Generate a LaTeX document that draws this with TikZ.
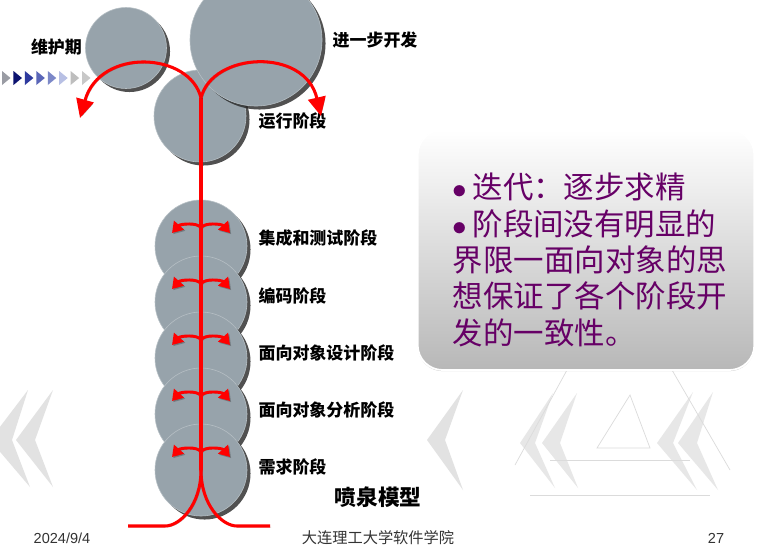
\documentclass[tikz,border=0pt]{standalone}
\usepackage{fontspec}
\setmainfont{Liberation Sans}
\newfontfamily\cjk{Noto Sans CJK SC}
\usetikzlibrary{shapes,arrows.meta,shadows}

\definecolor{ballgray}{HTML}{97A3AB}
\definecolor{notepurple}{HTML}{660066}
\definecolor{decogray}{HTML}{E2E2E2}
\definecolor{tri1}{HTML}{9A9CA4}
\definecolor{tri2}{HTML}{0C1370}
\definecolor{tri3}{HTML}{2E3A9E}
\definecolor{tri4}{HTML}{5A66B8}
\definecolor{tri5}{HTML}{7C88C8}
\definecolor{tri6}{HTML}{B8C0E4}
\definecolor{tri7}{HTML}{BEBEBE}
\definecolor{tri8}{HTML}{C8C8C8}

\begin{document}
\begin{tikzpicture} [x=0.03cm, y=-0.03cm, node distance=1.68cm,
  ball/.style={circle, fill=ballgray, draw=ballgray!70!white, line width=0.5pt, inner sep=0pt, drop shadow={shadow xshift=3pt, shadow yshift=-3pt, opacity=0.8, fill=black!85}},
  stagetext/.style={anchor=west, inner sep=0pt, font=\cjk\bfseries\fontsize{14.5}{16}\selectfont},
  redshadow/.style={preaction={draw=black!80, opacity=0.35, transform canvas={shift={(1pt,-1pt)}}}},
  stem/.style={draw=red, line width=2.6pt, redshadow},
  jet/.style={stem, -{Triangle[length=16pt, width=15pt]}},
  spray/.style={draw=red, line width=2.5pt, redshadow, -{Triangle[length=9pt, width=11pt]}},
  decoline/.style={draw=black!14, line width=0.6pt},
  infobox/.style={rectangle, rounded corners=0.75cm, minimum width=10.1cm, minimum height=7.2cm, top color=white, bottom color=black!28, draw=white, line width=1.5pt, drop shadow={shadow xshift=0pt, shadow yshift=-1pt, opacity=0.35, fill=black!60}}]
{\small

	\useasboundingbox (0,0) rectangle (765,550);
	\clip (0,0) rectangle (765,550);
	\fill[white] (0,0) rectangle (765,550);

	% faint background marks
	\fill[decogray] (28,390) -- (-10,440) -- (30,487) -- (12,440) -- cycle;
	\fill[decogray] (53,390) -- (16,440) -- (53,487) -- (35,440) -- cycle;
	\fill[decogray] (463,390) -- (427,440) -- (463,490) -- (445,440) -- cycle;
	\fill[decogray, opacity=0.8] (553,393) -- (520,443) -- (555,488) -- (535,443) -- cycle;
	\fill[decogray, opacity=0.8] (577,393) -- (542,443) -- (578,488) -- (560,443) -- cycle;
	\fill[decogray, opacity=0.8] (693,392) -- (657,443) -- (697,490) -- (673,443) -- cycle;
	\fill[decogray, opacity=0.8] (713,392) -- (678,443) -- (718,490) -- (697,443) -- cycle;
	\draw[decoline] (567,370) -- (515,465);
	\draw[decoline] (672,370) -- (730,470);
	\draw[decoline] (530,495) -- (710,495);
	\draw[decoline] (550,460) -- (690,460);
	\draw[decoline] (630,395) -- (597,448) -- (650,448) -- cycle;

	% row of little triangles
	\foreach \col [count=\i] in {tri1,tri2,tri3,tri4,tri5,tri6,tri7,tri8}
		\fill[\col] ({-9.4+11.43*\i},71) -- ++(8.5,7) -- ++(-8.5,7) -- cycle;

	% circles
	\node [ball, minimum size=2.76cm] (run) at (200,116) {};
	\node [ball, minimum size=2.43cm] (care) at (126,48) {};
	\node [ball, minimum size=3.96cm] (grow) at (256,40) {};
	\node [ball, minimum size=2.76cm] (stage_1) at (201,246) {};
	\node [ball, minimum size=2.76cm, below of=stage_1] (stage_2) {};
	\node [ball, minimum size=2.76cm, below of=stage_2] (stage_3) {};
	\node [ball, minimum size=2.76cm, below of=stage_3] (stage_4) {};
	\node [ball, minimum size=2.76cm, below of=stage_4] (stage_5) {};

	% labels
	\node [stagetext, anchor=east] (care_text) at ([shift={(-3,-1)}]care.west) {维护期};
	\node [stagetext] (grow_text) at ([shift={(10,0)}]grow.east) {进一步开发};
	\node [stagetext] (run_text) at ([shift={(12,5)}]run.east) {运行阶段};
	\node [stagetext] (stage_1_text) at ([shift={(11,-8)}]stage_1.east) {集成和测试阶段};
	\node [stagetext] (stage_2_text) at ([shift={(11,-6)}]stage_2.east) {编码阶段};
	\node [stagetext] (stage_3_text) at ([shift={(11,-5)}]stage_3.east) {面向对象设计阶段};
	\node [stagetext] (stage_4_text) at ([shift={(11,-4)}]stage_4.east) {面向对象分析阶段};
	\node [stagetext] (stage_5_text) at ([shift={(11,-3)}]stage_5.east) {需求阶段};
	\node [font=\cjk\bfseries\fontsize{18.5}{20}\selectfont] (title) at (378,497) {喷泉模型};

	% the fountain
	\coordinate (fork_top) at (201,98);
	\coordinate (fork_bottom) at (201,470);
	\coordinate (care_tip) at (80,118);
	\coordinate (grow_tip) at (321,116);
	\coordinate (base_left) at (128,526);
	\coordinate (base_right) at (270,526);
	\foreach \n in {1,...,5} {
		\coordinate (spout_\n) at ([shift={(0,-18)}]stage_\n.center);
		\draw [spray] (spout_\n) .. controls +(-3,-6) and +(8,-9) .. ++(-29,5);
		\draw [spray] (spout_\n) .. controls +(3,-6) and +(-8,-9) .. ++(29,5);
	}
	\draw [stem] (fork_bottom) -- (fork_top);
	\draw [jet] (fork_top) .. controls (190,52) and (100,47) .. (care_tip);
	\draw [jet] (fork_top) .. controls (212,52) and (305,47) .. (grow_tip);
	\draw [stem] (fork_bottom) .. controls (201,505) and (180,526) .. (165,526) -- (base_left);
	\draw [stem] (fork_bottom) .. controls (201,505) and (222,526) .. (237,526) -- (base_right);

	% note box
	\node [infobox] (note) at (586,250) {};
	\node [align=left, inner sep=0pt, text=notepurple, font=\cjk\fontsize{26}{31}\selectfont] (note_text) at ([shift={(4,10)}]note.center)
		{$\bullet$\,迭代：逐步求精\\$\bullet$\,阶段间没有明显的\\界限一面向对象的思\\想保证了各个阶段开\\发的一致性。};

	% footer
	\node [text=black!80, font=\fontsize{12.4}{14}\selectfont] (date) at (62,538) {2024/9/4};
	\node [text=black!80, font=\cjk\fontsize{13}{15}\selectfont] (school) at (378,538) {大连理工大学软件学院};
	\node [text=black!80, font=\fontsize{12.4}{14}\selectfont] (page) at (716,538) {27};
}
\end{tikzpicture}
\end{document}
